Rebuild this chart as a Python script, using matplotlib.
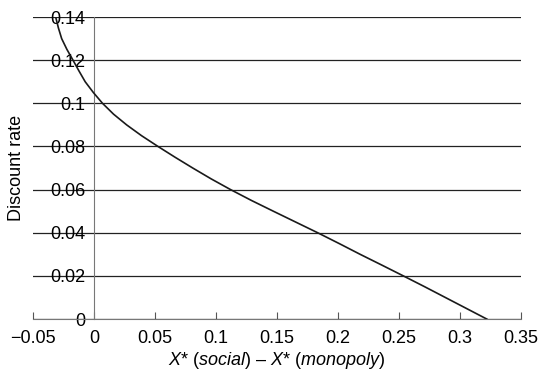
import matplotlib.pyplot as plt
from matplotlib.ticker import FixedLocator, FixedFormatter

# values
x_gap = [-0.0314, -0.0292, -0.0265, -0.0222, -0.0172, -0.0123, -0.0072,
         -0.0005, 0.0070, 0.0160, 0.0268, 0.0390, 0.0525, 0.0665, 0.0810,
         0.0960, 0.1120, 0.1290, 0.1470, 0.1652, 0.1834, 0.2010, 0.2182,
         0.2360, 0.2536, 0.2710, 0.2880, 0.3050, 0.3220]
discount = [0.14, 0.135, 0.13, 0.125, 0.12, 0.115, 0.11,
            0.105, 0.10, 0.095, 0.09, 0.085, 0.08, 0.075, 0.07,
            0.065, 0.06, 0.055, 0.05, 0.045, 0.04, 0.035, 0.03,
            0.025, 0.02, 0.015, 0.01, 0.005, 0.0]

xticks = [-0.05, 0, 0.05, 0.1, 0.15, 0.2, 0.25, 0.3, 0.35]
xlabels = ['\u22120.05', '0', '0.05', '0.1', '0.15', '0.2', '0.25', '0.3', '0.35']
yticks = [0, 0.02, 0.04, 0.06, 0.08, 0.1, 0.12, 0.14]
ylabels = ['0', '0.02', '0.04', '0.06', '0.08', '0.1', '0.12', '0.14']

plt.rcParams['font.family'] = ['Liberation Sans', 'DejaVu Sans']
plt.rcParams['mathtext.fontset'] = 'custom'
plt.rcParams['mathtext.rm'] = 'Liberation Sans'
plt.rcParams['mathtext.it'] = 'Liberation Sans:italic'

fig = plt.figure(figsize=(5.41, 3.71), dpi=100)
ax = fig.add_axes([0.061, 0.14, 0.902, 0.814])

ax.plot(x_gap, discount, color='#1a1a1a', linewidth=1.2, zorder=3)

ax.set_xlim(-0.05, 0.35)
ax.set_ylim(0, 0.14)

# y axis sits at x = 0, labels ride along with it
ax.spines['left'].set_position(('data', 0))
ax.spines['left'].set_color('#777777')
ax.spines['bottom'].set_color('#777777')
ax.spines['top'].set_visible(False)
ax.spines['right'].set_visible(False)

ax.xaxis.set_major_locator(FixedLocator(xticks))
ax.xaxis.set_major_formatter(FixedFormatter(xlabels))
ax.yaxis.set_major_locator(FixedLocator(yticks))
ax.yaxis.set_major_formatter(FixedFormatter(ylabels))
ax.tick_params(axis='x', direction='in', length=5, color='#555555',
               labelsize=13, pad=8)
ax.tick_params(axis='y', length=0, labelsize=13, pad=6)

ax.grid(axis='y', color='#222222', linewidth=0.9)
ax.set_axisbelow(True)

ax.set_xlabel(r'$X$* ($\mathit{social}$) ' + '\u2013' + r' $X$* ($\mathit{monopoly}$)',
              fontsize=13, labelpad=2)
fig.text(0.031, 0.547, 'Discount rate', rotation=90, fontsize=13,
         ha='center', va='center')

fig.savefig('out.png', dpi=100)
